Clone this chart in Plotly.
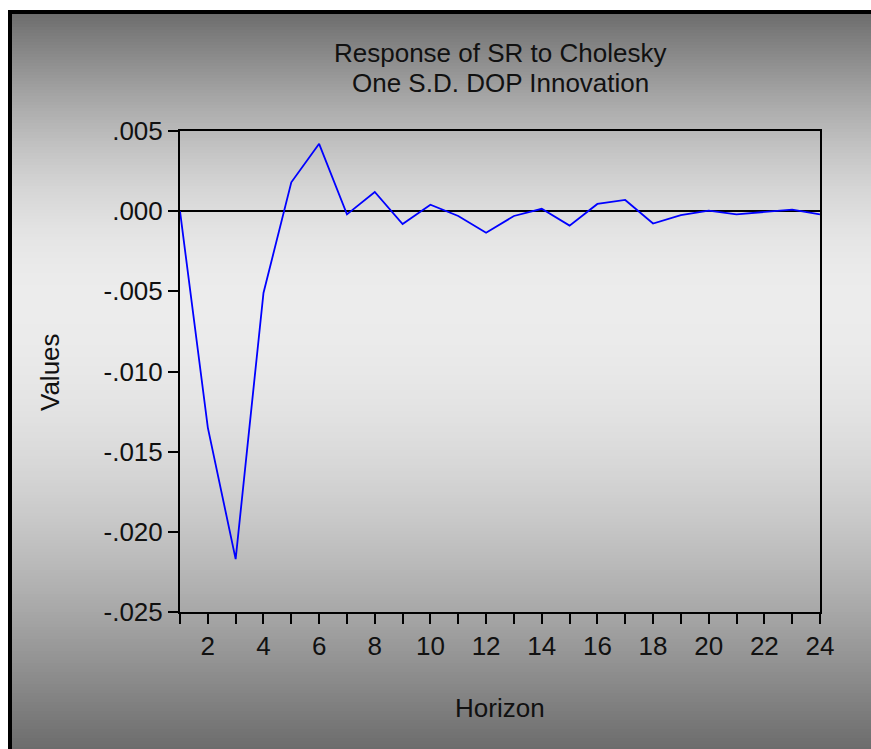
import math

import plotly.graph_objects as go

# Impulse response of SR to a one S.D. DOP shock
horizon = list(range(1, 25))
response = [
    0.0, -0.0135, -0.0217, -0.0051, 0.0018, 0.0042, -0.0002, 0.0012,
    -0.0008, 0.0004, -0.0003, -0.00135, -0.0003, 0.00015, -0.0009, 0.00045,
    0.0007, -0.00077, -0.00025, 0.00003, -0.0002, -0.00005, 0.0001, -0.0002,
]

y_tickvals = [0.005, 0.0, -0.005, -0.010, -0.015, -0.020, -0.025]
y_ticktext = [".005", ".000", "-.005", "-.010", "-.015", "-.020", "-.025"]
x_tickvals = horizon
x_ticktext = [str(h) if h % 2 == 0 else "" for h in horizon]

W, H = 871, 749
L, R, T, B = 180, 51, 131, 137
PW, PH = W - L - R, H - T - B
FONT = "Liberation Sans, Arial, sans-serif"


def px_x(x):
    return (x - L) / PW


def px_y(y):
    return (H - B - y) / PH


def grey_at(y, top, bottom, peak_at, dark=108, light=236):
    """Grey level of the panel background: dark at both ends, light near peak_at."""
    if y <= peak_at:
        t = (y - top) / (peak_at - top)
    else:
        t = (bottom - y) / (bottom - peak_at)
    t = math.sin(max(0.0, min(1.0, t)) * math.pi / 2)
    return int(round(dark + (light - dark) * t))


fig = go.Figure()
fig.add_trace(go.Scatter(
    x=horizon, y=response, mode="lines",
    line=dict(color="#0000ff", width=1.8),
    hoverinfo="x+y", showlegend=False,
))

# vertical grey gradient behind the whole panel, built from thin bands
bg_top, bg_bottom, bg_left, step = 12, H, 10, 3
shapes = []
for y in range(bg_top, bg_bottom, step):
    g = grey_at(y + step / 2, bg_top, bg_bottom, 300)
    shapes.append(dict(
        type="rect", xref="paper", yref="paper", layer="below",
        x0=px_x(bg_left), x1=px_x(W),
        y0=px_y(y), y1=px_y(min(y + step + 1, bg_bottom)),
        fillcolor=f"rgb({g},{g},{g})", line=dict(width=0),
    ))

# black frame: left and top edges of the chart panel
shapes.append(dict(type="line", xref="paper", yref="paper", layer="above",
                   x0=px_x(10), x1=px_x(10), y0=px_y(10), y1=px_y(H),
                   line=dict(color="black", width=4)))
shapes.append(dict(type="line", xref="paper", yref="paper", layer="above",
                   x0=px_x(8), x1=px_x(W), y0=px_y(12), y1=px_y(12),
                   line=dict(color="black", width=4)))

text_col = "#111111"
annotations = [
    dict(text="Response of SR to Cholesky", x=px_x(500), y=px_y(53)),
    dict(text="One S.D. DOP Innovation", x=px_x(500), y=px_y(83)),
    dict(text="Horizon", x=px_x(500), y=px_y(708)),
    dict(text="Values", x=px_x(50), y=px_y(372), textangle=-90),
]
for a in annotations:
    fig.add_annotation(xref="paper", yref="paper", showarrow=False,
                       xanchor="center", yanchor="middle",
                       font=dict(family=FONT, size=26, color=text_col), **a)

axis_common = dict(
    showgrid=False, showline=True, linecolor="black", linewidth=2,
    mirror=True, ticks="outside", ticklen=10, tickwidth=1.5,
    tickcolor="black", tickfont=dict(family=FONT, size=26, color=text_col),
)

fig.update_xaxes(range=[1, 24], tickvals=x_tickvals, ticktext=x_ticktext,
                 zeroline=False, **axis_common)
fig.update_yaxes(range=[-0.025, 0.005], tickvals=y_tickvals,
                 ticktext=y_ticktext, zeroline=True, zerolinecolor="black",
                 zerolinewidth=1.5, **axis_common)

fig.update_layout(
    width=W, height=H, margin=dict(l=L, r=R, t=T, b=B),
    paper_bgcolor="white", plot_bgcolor="rgba(0,0,0,0)",
    font=dict(family=FONT, color=text_col),
    shapes=shapes,
)

fig.write_html(
    "out.html",
    config={"displayModeBar": False},
    post_script=(
        "document.documentElement.style.overflow='hidden';"
        "document.body.style.overflow='hidden';"
        "document.body.style.margin='0';"
    ),
)
